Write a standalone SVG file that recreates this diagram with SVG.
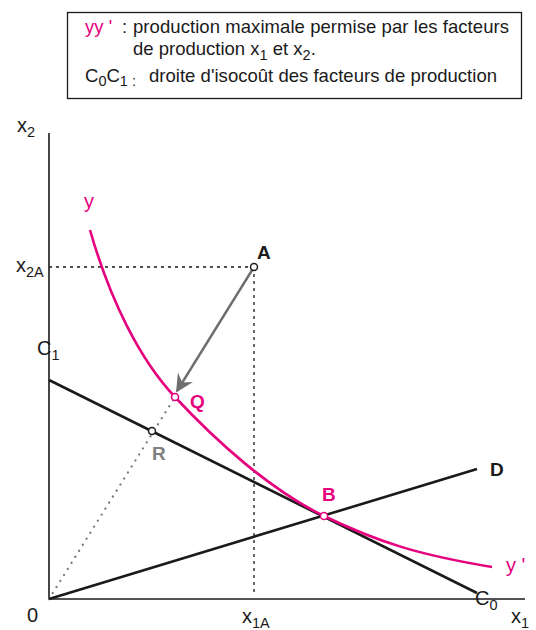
<svg xmlns="http://www.w3.org/2000/svg" width="536" height="630" viewBox="0 0 536 630">
<style>
text{font-family:"Liberation Sans",Arial,sans-serif;font-size:20px;fill:#1a1a1a}
.leg{font-size:18.5px}
.mag{fill:#e6007e}
.b{font-weight:bold;font-size:19px}
.gray{fill:#808080}
.sub{font-size:14.5px}
.ax{stroke:#1a1a1a;stroke-width:1.6;fill:none}
.ln{stroke:#1a1a1a;stroke-width:2.6;fill:none}
.dot{stroke:#1a1a1a;stroke-width:1.3;stroke-dasharray:3 4;fill:none}
.pt{fill:#fff;stroke-width:1.5}
</style>
<defs>
<marker id="ah" viewBox="0 0 10 10" refX="9" refY="5" markerWidth="7.5" markerHeight="7.5" orient="auto" markerUnits="strokeWidth">
<path d="M0,0 L10,5 L0,10 L3.5,5 z" fill="#6e6e6e"/>
</marker>
</defs>
<g id="legend">
<rect x="67.5" y="12.5" width="454" height="86" fill="#fff" stroke="#1a1a1a" stroke-width="1.3"/>
<text class="leg mag" x="85" y="33">yy '</text>
<text class="leg" x="122" y="33">:</text>
<text class="leg" x="133" y="33" textLength="376">production maximale permise par les facteurs</text>
<text class="leg" x="133" y="55">de production x<tspan class="sub" dy="5">1</tspan><tspan dy="-5"> et x</tspan><tspan class="sub" dy="5">2</tspan><tspan dy="-5">.</tspan></text>
<text class="leg" x="85" y="82">C<tspan class="sub" dy="4">0</tspan><tspan dy="-4">C</tspan><tspan class="sub" dy="4">1 : </tspan></text>
<text class="leg" x="149" y="82" textLength="348">droite d'isocoût des facteurs de production</text>
</g>
<g id="axes">
<path class="ax" d="M49,133 V599 H525"/>
<text x="17" y="132">x<tspan class="sub" dy="5">2</tspan></text>
<text x="511" y="623">x<tspan class="sub" dy="5">1</tspan></text>
<text x="27" y="622">0</text>
<text x="16" y="272">x<tspan class="sub" dy="5">2A</tspan></text>
<text x="242" y="623">x<tspan class="sub" dy="5">1A</tspan></text>
</g>
<g id="connectors">
<path class="dot" d="M49,267 H254 M254,267 V594"/>
<path d="M49,599 L175,397" stroke="#7a7a7a" stroke-width="2.2" stroke-dasharray="0.1 7" stroke-linecap="round" fill="none"/>
<path d="M254,267 L177,391" stroke="#6e6e6e" stroke-width="2.4" fill="none" marker-end="url(#ah)"/>
</g>
<g id="isocost">
<path class="ln" d="M49,380 L477,593"/>
<text x="37" y="355">C<tspan class="sub" dy="5">1</tspan></text>
<text x="475" y="605">C<tspan class="sub" dy="5">0</tspan></text>
</g>
<g id="lineD">
<path class="ln" d="M49,599 L477,469"/>
<text class="b" x="490" y="476">D</text>
</g>
<g id="curve">
<path d="M90,230 C110,300 140,360 175,397 C215,440 270,490 324,516 C380,543 420,555 492,567" stroke="#e6007e" stroke-width="2.6" fill="none"/>
<text class="mag" x="84" y="208">y</text>
<text class="mag" x="506" y="572">y '</text>
</g>
<g id="pointA">
<circle class="pt" cx="254" cy="267" r="3.5" stroke="#1a1a1a"/>
<text class="b" x="257" y="259">A</text>
</g>
<g id="pointQ">
<circle class="pt" cx="175" cy="397" r="3.5" stroke="#e6007e"/>
<text class="b mag" x="190" y="408">Q</text>
</g>
<g id="pointR">
<circle class="pt" cx="152" cy="431" r="3.5" stroke="#1a1a1a"/>
<text class="b gray" x="152" y="460">R</text>
</g>
<g id="pointB">
<circle class="pt" cx="324" cy="516" r="3.5" stroke="#e6007e"/>
<text class="b mag" x="322" y="501">B</text>
</g>
</svg>
